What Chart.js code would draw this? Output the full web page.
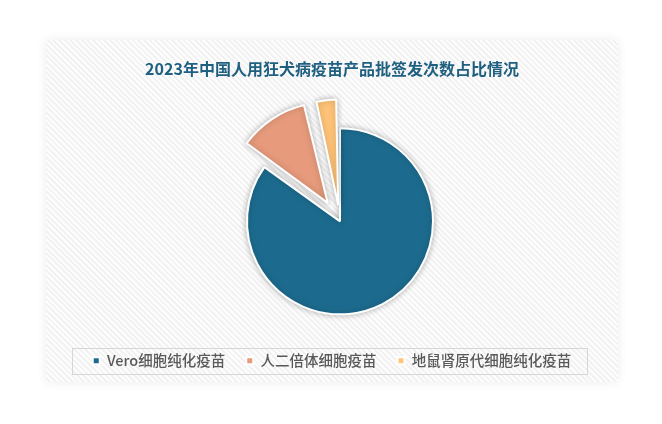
<!DOCTYPE html>
<html>
<head>
<meta charset="utf-8">
<script src="https://cdn.jsdelivr.net/npm/chart.js@4.4.1/dist/chart.umd.min.js"></script>
<style>
  body { margin: 0; background: #fff; }
  #panel {
    position: absolute; left: 46px; top: 40px; width: 572px; height: 342px;
    background: repeating-linear-gradient(45deg, #fdfdfd 0 2px, #f2f2f2 2px 4px);
    box-shadow: 0 0 10px rgba(0, 0, 0, 0.08);
  }
</style>
</head>
<body>
<div id="panel"><canvas id="chart1"></canvas></div>
<script>
// 2023年中国人用狂犬病疫苗产品批签发次数占比 (%)
var categories = ['Vero细胞纯化疫苗', '人二倍体细胞疫苗', '地鼠肾原代细胞纯化疫苗'];
var shares = [84.9, 11.5, 3.6];
var sliceColors = ['#1c6b8e', '#e79b7c', '#ffc478'];

// pie sits a little right of and below the panel centre in the original
var shiftPie = {
  id: 'shiftPie',
  afterLayout: function(chart) {
    chart.chartArea.left += 16;
    chart.chartArea.top += 14;
  }
};

var pieShadow = {
  id: 'pieShadow',
  beforeDatasetsDraw: function(chart) {
    var c = chart.ctx;
    c.save();
    c.shadowColor = 'rgba(0,0,0,0.28)';
    c.shadowBlur = 6;
  },
  afterDatasetsDraw: function(chart) {
    chart.ctx.restore();
  }
};

// grey frame round the legend
var legendFrame = {
  id: 'legendFrame',
  afterDraw: function(chart) {
    var boxes = chart.legend.legendHitBoxes;
    if (!boxes || !boxes.length) return;
    var l = boxes[0].left, r = boxes[boxes.length - 1].left + boxes[boxes.length - 1].width;
    var mid = boxes[0].top + boxes[0].height / 2;
    var c = chart.ctx;
    c.save();
    c.strokeStyle = '#d6d6d6';
    c.lineWidth = 1;
    c.strokeRect(Math.round(l - 21) + 0.5, Math.round(mid - 13) + 0.5, Math.round(r - l + 37), 26);
    c.restore();
  }
};

var ctx = document.getElementById('chart1').getContext('2d');
var myChart = new Chart(ctx, {
  type: 'pie',
  data: {
    labels: categories,
    datasets: [{
      data: shares,
      backgroundColor: sliceColors,
      borderColor: '#ffffff',
      borderWidth: 2,
      // chart.js moves a slice by roughly offset/3 .. offset/2, so ~30px here
      offset: [0, 89, 65],
      radius: 93
    }]
  },
  options: {
    responsive: true,
    maintainAspectRatio: false,
    animation: false,
    layout: { padding: { bottom: 4 } },
    plugins: {
      title: {
        display: true,
        text: '2023年中国人用狂犬病疫苗产品批签发次数占比情况',
        color: '#1f5f80',
        font: { family: '"Noto Sans CJK SC", sans-serif', size: 16, weight: 'bold' },
        padding: { top: 19, bottom: 18 }
      },
      legend: {
        display: true,
        position: 'bottom',
        labels: {
          boxWidth: 7,
          boxHeight: 7,
          padding: 21,
          color: '#595959',
          font: { family: '"Noto Sans CJK SC", sans-serif', size: 14.5, weight: '500' }
        }
      },
      tooltip: { enabled: false }
    }
  },
  plugins: [shiftPie, pieShadow, legendFrame]
});
</script>
</body>
</html>
